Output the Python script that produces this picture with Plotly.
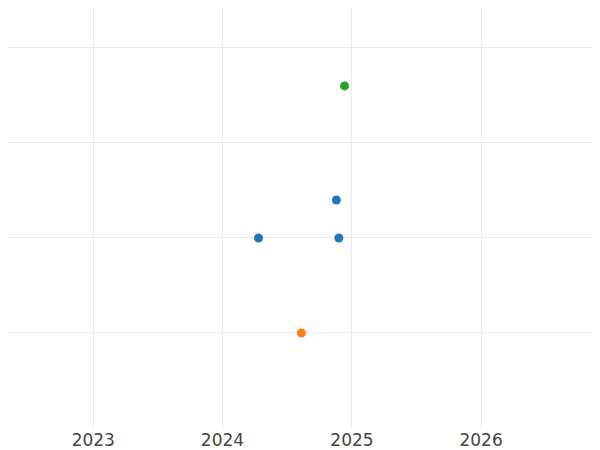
import plotly.graph_objects as go

# Data
blue_dates = ["2024-04-12", "2024-11-18", "2024-11-25"]
blue_values = [2.0, 2.4, 2.0]
orange_dates = ["2024-08-11"]
orange_values = [1.0]
green_dates = ["2024-12-11"]
green_values = [3.6]

x_range = ["2022-05-05", "2026-12-03"]
y_range = [0, 4.42]

fig = go.Figure()
fig.add_trace(go.Scatter(x=blue_dates, y=blue_values, mode="markers",
                         marker=dict(color="#1f77b4", size=9), name="A"))
fig.add_trace(go.Scatter(x=orange_dates, y=orange_values, mode="markers",
                         marker=dict(color="#ff7f0e", size=9), name="B"))
fig.add_trace(go.Scatter(x=green_dates, y=green_values, mode="markers",
                         marker=dict(color="#2ca02c", size=9), name="C"))

fig.update_layout(
    width=592, height=442,
    margin=dict(l=0, r=0, t=0, b=22),
    plot_bgcolor="white", paper_bgcolor="white",
    showlegend=False,
    font=dict(family="DejaVu Sans", size=17, color="#444444"),
    xaxis=dict(type="date", range=x_range, showgrid=True, gridcolor="#ebebeb",
               zeroline=False, showline=False, dtick="M12", tickformat="%Y",
               automargin=False),
    yaxis=dict(range=y_range, showgrid=True, gridcolor="#ebebeb", dtick=1,
               zeroline=False, showline=False, showticklabels=False,
               automargin=False),
)

fig.write_html("out.html")
